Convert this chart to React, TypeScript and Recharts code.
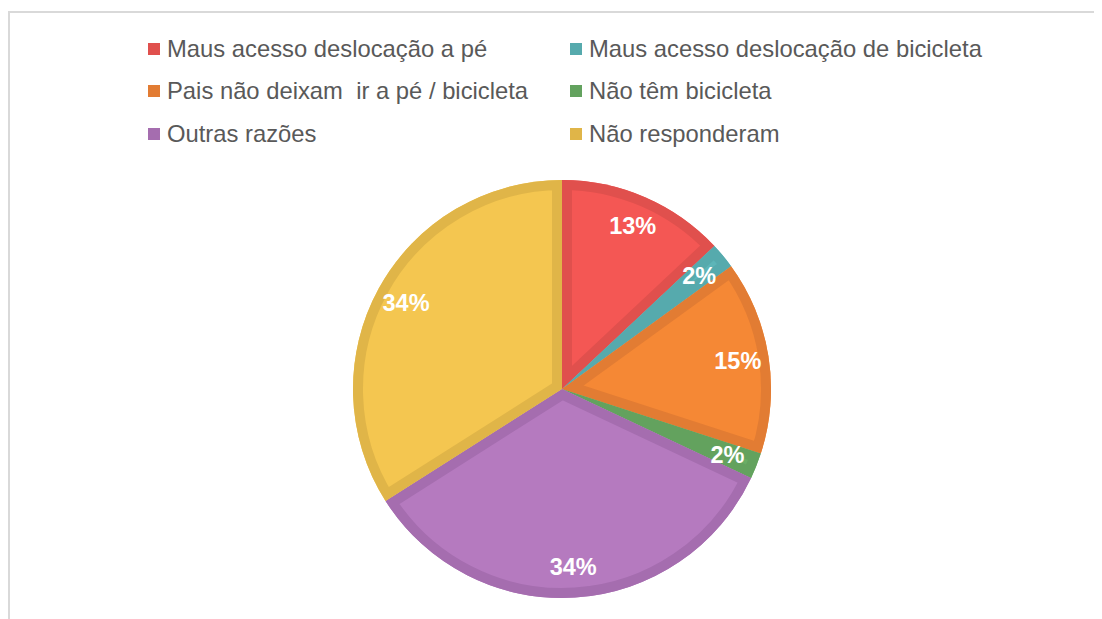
import React from 'react';
import { PieChart, Pie, Cell, Sector } from 'recharts';

const categories = [
  'Maus acesso deslocação a pé',
  'Maus acesso deslocação de bicicleta',
  'Pais não deixam  ir a pé / bicicleta',
  'Não têm bicicleta',
  'Outras razões',
  'Não responderam',
];
const shares = [13, 2, 15, 2, 34, 34];

const fills = ['#F45754', '#5DB5B8', '#F58835', '#6AAD65', '#B57ABF', '#F4C650'];
const borders = ['#E0504D', '#56AAAD', '#E27C33', '#63A25E', '#A56DAF', '#E0B548'];

const data = categories.map((name, i) => ({ name, value: shares[i] }));
const total = shares.reduce((a, b) => a + b, 0);
const RAD = Math.PI / 180;

const renderBorder = (props: any) => {
  const { cx, cy, outerRadius, startAngle, endAngle, index } = props;
  const id = `slice-clip-${index}`;
  return (
    <g key={id}>
      <defs>
        <clipPath id={id}>
          <Sector cx={cx} cy={cy} innerRadius={0} outerRadius={outerRadius} startAngle={startAngle} endAngle={endAngle} />
        </clipPath>
      </defs>
      <Sector
        cx={cx}
        cy={cy}
        innerRadius={0}
        outerRadius={outerRadius}
        startAngle={startAngle}
        endAngle={endAngle}
        fill="none"
        stroke={borders[index]}
        strokeWidth={20}
        clipPath={`url(#${id})`}
      />
    </g>
  );
};

const renderPct = (props: any) => {
  const { cx, cy, midAngle, value, index } = props;
  const r = 178;
  const x = cx + r * Math.cos(-midAngle * RAD);
  const y = cy + r * Math.sin(-midAngle * RAD);
  return (
    <text
      key={`pct-${index}`}
      x={x}
      y={y}
      fill="#fff"
      textAnchor="middle"
      dominantBaseline="central"
      fontSize={23.5}
      fontWeight="bold"
      fontFamily="'Liberation Sans', Arial, sans-serif"
    >
      {Math.round((value / total) * 100)}%
    </text>
  );
};

const LegendGrid = () => (
  <div
    style={{
      position: 'absolute',
      left: 140,
      top: 27,
      display: 'grid',
      gridTemplateColumns: '422px 420px',
      rowGap: 15.5,
      fontFamily: "'Liberation Sans', Arial, sans-serif",
      fontSize: 23.8,
      color: '#595959',
    }}
  >
    {categories.map((c, i) => (
      <div key={c} style={{ display: 'flex', alignItems: 'center', height: 27, whiteSpace: 'pre' }}>
        <span style={{ width: 12, height: 12, background: borders[i], marginRight: 7, display: 'inline-block' }} />
        {c}
      </div>
    ))}
  </div>
);

export default function App() {
  return (
    <div style={{ position: 'relative', width: 1094, height: 611 }}>
      <div
        style={{
          position: 'absolute',
          left: 0,
          top: 3,
          width: 1094,
          height: 608,
          borderTop: '2px solid #D9D9D9',
          borderLeft: '2px solid #D9D9D9',
          boxSizing: 'border-box',
        }}
      />
      <PieChart width={1094} height={611} style={{ position: 'absolute', left: 0, top: 0 }}>
        <Pie
          data={data}
          dataKey="value"
          nameKey="name"
          cx={549}
          cy={376}
          outerRadius={209}
          startAngle={90}
          endAngle={-270}
          stroke="none"
          label={renderBorder}
          labelLine={false}
          isAnimationActive={false}
        >
          {data.map((d, i) => (
            <Cell key={d.name} fill={fills[i]} stroke="none" />
          ))}
        </Pie>
        <Pie
          data={data}
          dataKey="value"
          nameKey="name"
          cx={549}
          cy={376}
          outerRadius={209}
          startAngle={90}
          endAngle={-270}
          fill="none"
          stroke="none"
          legendType="none"
          label={renderPct}
          labelLine={false}
          isAnimationActive={false}
        />
      </PieChart>
      <LegendGrid />
    </div>
  );
}
